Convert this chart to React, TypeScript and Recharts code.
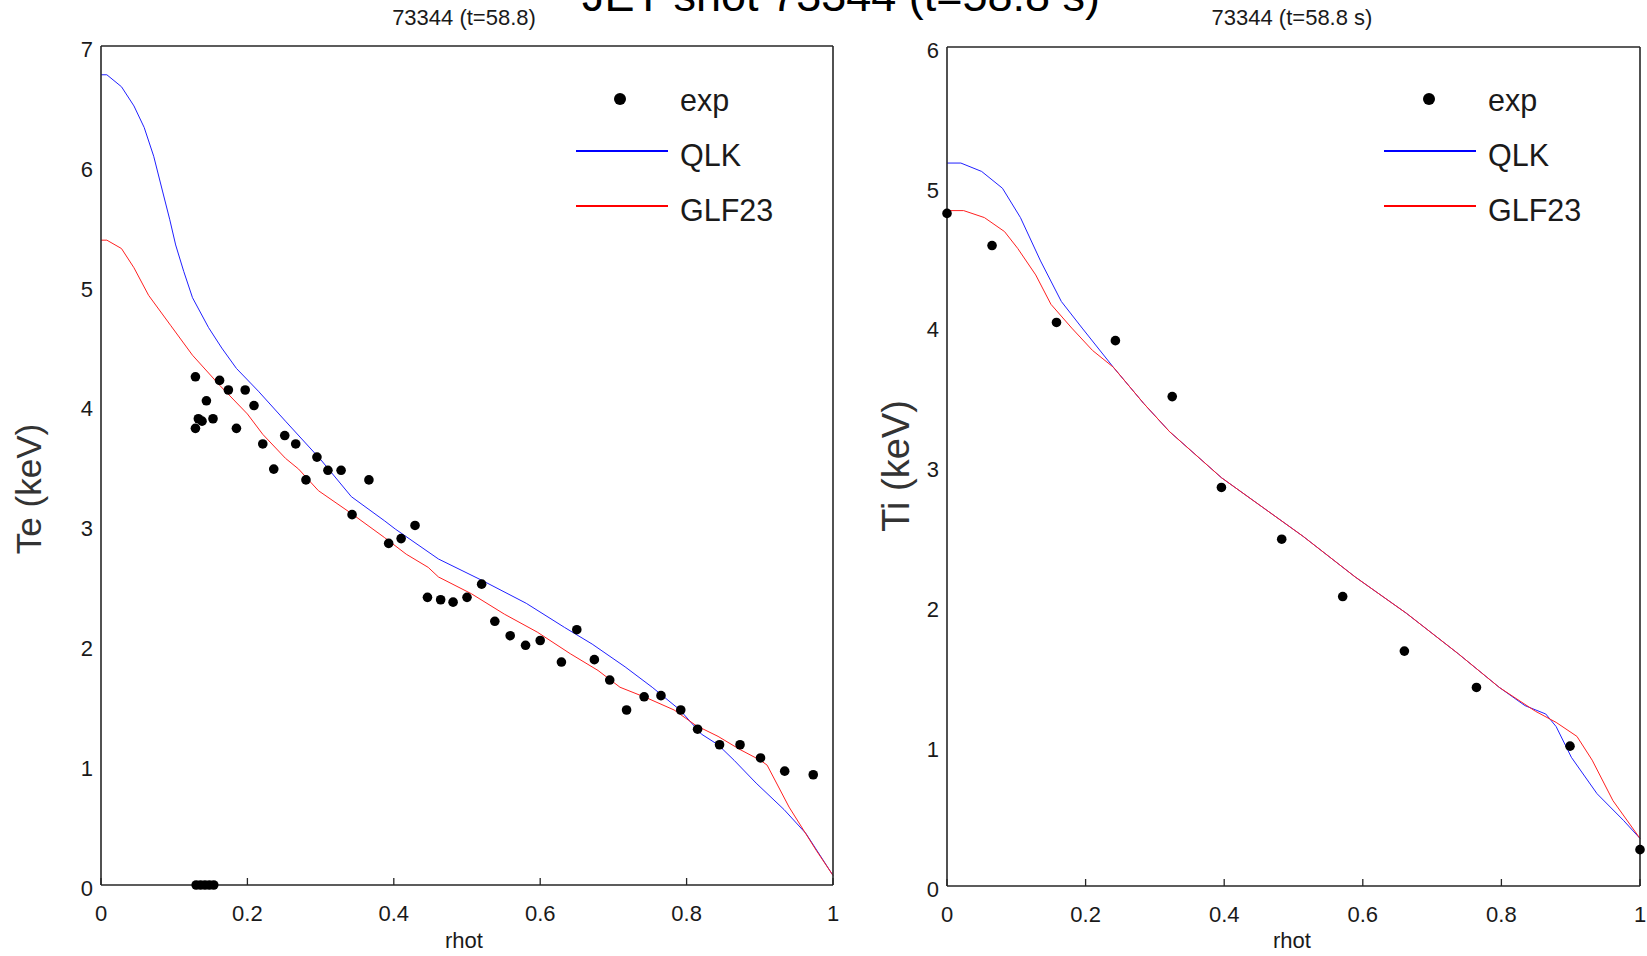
import React from 'react';
import { ComposedChart, Line, Scatter, XAxis, YAxis } from 'recharts';

const FONT = '"Liberation Sans", Arial, Helvetica, sans-serif';
const AXIS = '#262626';

// ---------- data ----------
const rhoTicks = [0, 0.2, 0.4, 0.6, 0.8, 1];
const teTicks = [0, 1, 2, 3, 4, 5, 6, 7];
const tiTicks = [0, 1, 2, 3, 4, 5, 6];

const teExp = [
  { x: 0.129, y: 4.24 }, { x: 0.129, y: 3.81 }, { x: 0.133, y: 3.89 }, { x: 0.138, y: 3.87 },
  { x: 0.144, y: 4.04 }, { x: 0.153, y: 3.89 }, { x: 0.162, y: 4.21 }, { x: 0.174, y: 4.13 },
  { x: 0.185, y: 3.81 }, { x: 0.197, y: 4.13 }, { x: 0.209, y: 4.0 }, { x: 0.221, y: 3.68 },
  { x: 0.236, y: 3.47 }, { x: 0.251, y: 3.75 }, { x: 0.266, y: 3.68 }, { x: 0.28, y: 3.38 },
  { x: 0.295, y: 3.57 }, { x: 0.31, y: 3.46 }, { x: 0.328, y: 3.46 }, { x: 0.343, y: 3.09 },
  { x: 0.366, y: 3.38 }, { x: 0.393, y: 2.85 }, { x: 0.41, y: 2.89 }, { x: 0.429, y: 3.0 },
  { x: 0.446, y: 2.4 }, { x: 0.464, y: 2.38 }, { x: 0.481, y: 2.36 }, { x: 0.5, y: 2.4 },
  { x: 0.52, y: 2.51 }, { x: 0.538, y: 2.2 }, { x: 0.559, y: 2.08 }, { x: 0.58, y: 2.0 },
  { x: 0.6, y: 2.04 }, { x: 0.629, y: 1.86 }, { x: 0.65, y: 2.13 }, { x: 0.674, y: 1.88 },
  { x: 0.695, y: 1.71 }, { x: 0.718, y: 1.46 }, { x: 0.742, y: 1.57 }, { x: 0.765, y: 1.58 },
  { x: 0.792, y: 1.46 }, { x: 0.815, y: 1.3 }, { x: 0.845, y: 1.17 }, { x: 0.873, y: 1.17 },
  { x: 0.901, y: 1.06 }, { x: 0.934, y: 0.95 }, { x: 0.973, y: 0.92 },
  { x: 0.13, y: 0 }, { x: 0.136, y: 0 }, { x: 0.142, y: 0 }, { x: 0.148, y: 0 }, { x: 0.154, y: 0 },
];

const teQlk = [
  { x: 0, y: 6.76 }, { x: 0.008, y: 6.76 }, { x: 0.028, y: 6.66 }, { x: 0.045, y: 6.5 },
  { x: 0.059, y: 6.32 }, { x: 0.072, y: 6.08 }, { x: 0.084, y: 5.79 }, { x: 0.094, y: 5.55 },
  { x: 0.102, y: 5.34 }, { x: 0.113, y: 5.12 }, { x: 0.125, y: 4.9 }, { x: 0.147, y: 4.65 },
  { x: 0.165, y: 4.48 }, { x: 0.185, y: 4.31 }, { x: 0.215, y: 4.12 }, { x: 0.252, y: 3.87 },
  { x: 0.3, y: 3.55 }, { x: 0.342, y: 3.24 }, { x: 0.387, y: 3.04 }, { x: 0.402, y: 2.97 },
  { x: 0.461, y: 2.72 }, { x: 0.521, y: 2.54 }, { x: 0.581, y: 2.35 }, { x: 0.633, y: 2.15 },
  { x: 0.671, y: 2.01 }, { x: 0.716, y: 1.82 }, { x: 0.753, y: 1.65 }, { x: 0.791, y: 1.46 },
  { x: 0.82, y: 1.26 }, { x: 0.843, y: 1.17 }, { x: 0.865, y: 1.04 }, { x: 0.895, y: 0.85 },
  { x: 0.933, y: 0.63 }, { x: 0.963, y: 0.43 }, { x: 1.0, y: 0.08 },
];

const teGlf = [
  { x: 0, y: 5.38 }, { x: 0.008, y: 5.38 }, { x: 0.028, y: 5.31 }, { x: 0.045, y: 5.15 },
  { x: 0.065, y: 4.92 }, { x: 0.095, y: 4.67 }, { x: 0.125, y: 4.42 }, { x: 0.162, y: 4.17 },
  { x: 0.2, y: 3.93 }, { x: 0.221, y: 3.76 }, { x: 0.252, y: 3.56 }, { x: 0.27, y: 3.47 },
  { x: 0.297, y: 3.29 }, { x: 0.342, y: 3.1 }, { x: 0.387, y: 2.9 }, { x: 0.417, y: 2.76 },
  { x: 0.447, y: 2.65 }, { x: 0.461, y: 2.57 }, { x: 0.506, y: 2.43 }, { x: 0.551, y: 2.26 },
  { x: 0.596, y: 2.11 }, { x: 0.641, y: 1.93 }, { x: 0.679, y: 1.79 }, { x: 0.709, y: 1.65 },
  { x: 0.746, y: 1.56 }, { x: 0.783, y: 1.46 }, { x: 0.813, y: 1.33 }, { x: 0.843, y: 1.24 },
  { x: 0.873, y: 1.13 }, { x: 0.901, y: 1.04 }, { x: 0.91, y: 1.0 }, { x: 0.94, y: 0.65 },
  { x: 0.977, y: 0.29 }, { x: 1.0, y: 0.08 },
];

const tiExp = [
  { x: 0, y: 4.81 }, { x: 0.065, y: 4.58 }, { x: 0.158, y: 4.03 }, { x: 0.243, y: 3.9 },
  { x: 0.325, y: 3.5 }, { x: 0.396, y: 2.85 }, { x: 0.483, y: 2.48 }, { x: 0.571, y: 2.07 },
  { x: 0.66, y: 1.68 }, { x: 0.764, y: 1.42 }, { x: 0.899, y: 1.0 }, { x: 1.0, y: 0.26 },
];

const tiQlk = [
  { x: 0, y: 5.17 }, { x: 0.02, y: 5.17 }, { x: 0.05, y: 5.11 }, { x: 0.08, y: 4.99 },
  { x: 0.106, y: 4.78 }, { x: 0.135, y: 4.47 }, { x: 0.165, y: 4.18 }, { x: 0.195, y: 3.99 },
  { x: 0.24, y: 3.71 }, { x: 0.284, y: 3.45 }, { x: 0.321, y: 3.25 }, { x: 0.396, y: 2.92 },
  { x: 0.455, y: 2.71 }, { x: 0.514, y: 2.5 }, { x: 0.589, y: 2.21 }, { x: 0.663, y: 1.95 },
  { x: 0.738, y: 1.66 }, { x: 0.797, y: 1.42 }, { x: 0.834, y: 1.29 }, { x: 0.864, y: 1.23 },
  { x: 0.879, y: 1.14 }, { x: 0.901, y: 0.92 }, { x: 0.938, y: 0.66 }, { x: 0.976, y: 0.47 },
  { x: 1.0, y: 0.34 },
];

const tiGlf = [
  { x: 0, y: 4.83 }, { x: 0.024, y: 4.83 }, { x: 0.054, y: 4.78 }, { x: 0.083, y: 4.68 },
  { x: 0.102, y: 4.56 }, { x: 0.128, y: 4.37 }, { x: 0.15, y: 4.16 }, { x: 0.18, y: 3.99 },
  { x: 0.21, y: 3.83 }, { x: 0.24, y: 3.71 }, { x: 0.284, y: 3.45 }, { x: 0.321, y: 3.25 },
  { x: 0.396, y: 2.92 }, { x: 0.455, y: 2.71 }, { x: 0.514, y: 2.5 }, { x: 0.589, y: 2.21 },
  { x: 0.663, y: 1.95 }, { x: 0.738, y: 1.66 }, { x: 0.797, y: 1.42 }, { x: 0.849, y: 1.25 },
  { x: 0.879, y: 1.17 }, { x: 0.909, y: 1.07 }, { x: 0.931, y: 0.9 }, { x: 0.961, y: 0.61 },
  { x: 1.0, y: 0.34 },
];

// ---------- components ----------
const Dot = (props: any) => {
  const { cx, cy } = props;
  if (cx == null || cy == null) return null;
  return <circle cx={cx} cy={cy} r={4.8} fill="#000" />;
};

type PanelProps = {
  left: number;
  width: number;
  plotLeft: number;
  plotRight: number;
  plotTop: number;
  plotBottom: number;
  yTicks: number[];
  exp: { x: number; y: number }[];
  qlk: { x: number; y: number }[];
  glf: { x: number; y: number }[];
};

const H = 956;
const YW = 40;
const XH = 40;

function Panel(p: PanelProps) {
  const margin = {
    left: p.plotLeft - p.left - YW,
    right: p.left + p.width - p.plotRight - 1,
    top: p.plotTop - 1,
    bottom: H - p.plotBottom - XH,
  };
  const yMax = p.yTicks[p.yTicks.length - 1];
  const tickStyle = { fontFamily: FONT, fontSize: 22, fill: '#1a1a1a' };
  return (
    <div style={{ position: 'absolute', left: p.left, top: 0 }}>
      <ComposedChart width={p.width} height={H} margin={margin}>
        <XAxis
          xAxisId="b"
          type="number"
          dataKey="x"
          domain={[0, 1]}
          ticks={rhoTicks}
          tickFormatter={(v: number) => String(v)}
          height={XH}
          stroke={AXIS}
          axisLine={{ stroke: AXIS, strokeWidth: 1.6 }}
          tickLine={{ stroke: AXIS, strokeWidth: 1.3 }}
          tickSize={-7}
          tickMargin={27}
          tick={tickStyle}
          interval={0}
        />
        <XAxis
          xAxisId="t"
          orientation="top"
          type="number"
          dataKey="x"
          domain={[0, 1]}
          ticks={rhoTicks}
          height={1}
          stroke={AXIS}
          axisLine={{ stroke: AXIS, strokeWidth: 1.6 }}
          tickLine={{ stroke: AXIS, strokeWidth: 1.3 }}
          tickSize={-7}
          tick={false}
          interval={0}
        />
        <YAxis
          yAxisId="l"
          type="number"
          dataKey="y"
          domain={[0, yMax]}
          ticks={p.yTicks}
          width={YW}
          stroke={AXIS}
          axisLine={{ stroke: AXIS, strokeWidth: 1.6 }}
          tickLine={false}
          tickSize={0}
          tickMargin={8}
          tick={{ ...tickStyle, dy: 3 }}
          interval={0}
        />
        <YAxis
          yAxisId="r"
          orientation="right"
          type="number"
          dataKey="y"
          domain={[0, yMax]}
          ticks={p.yTicks}
          width={1}
          stroke={AXIS}
          axisLine={{ stroke: AXIS, strokeWidth: 1.6 }}
          tickLine={{ stroke: AXIS, strokeWidth: 1.3 }}
          tickSize={-7}
          tick={false}
          interval={0}
        />
        <Line
          xAxisId="b"
          yAxisId="l"
          data={p.qlk}
          dataKey="y"
          type="linear"
          stroke="#2020ff"
          strokeWidth={1}
          dot={false}
          activeDot={false}
          isAnimationActive={false}
        />
        <Line
          xAxisId="b"
          yAxisId="l"
          data={p.glf}
          dataKey="y"
          type="linear"
          stroke="#ff2020"
          strokeWidth={1}
          dot={false}
          activeDot={false}
          isAnimationActive={false}
        />
        <Scatter
          xAxisId="b"
          yAxisId="l"
          data={p.exp}
          dataKey="y"
          fill="#000"
          shape={Dot}
          isAnimationActive={false}
        />
      </ComposedChart>
    </div>
  );
}

function LegendBox({ dotX, lineX1, lineX2, textX }: { dotX: number; lineX1: number; lineX2: number; textX: number }) {
  const fs = 30.5;
  return (
    <g>
      <circle cx={dotX} cy={99} r={6} fill="#000" />
      <text x={textX} y={111} fontFamily={FONT} fontSize={fs} fill="#1a1a1a">exp</text>
      <line x1={lineX1} x2={lineX2} y1={151} y2={151} stroke="#0000ff" strokeWidth={2} />
      <text x={textX} y={166} fontFamily={FONT} fontSize={fs} fill="#1a1a1a">QLK</text>
      <line x1={lineX1} x2={lineX2} y1={206} y2={206} stroke="#ff0000" strokeWidth={2} />
      <text x={textX} y={221} fontFamily={FONT} fontSize={fs} fill="#1a1a1a">GLF23</text>
    </g>
  );
}

export default function App() {
  return (
    <div
      style={{
        position: 'absolute',
        left: 0,
        top: 0,
        width: 1647,
        height: 956,
        overflow: 'hidden',
        background: '#fff',
      }}
    >
      <Panel
        left={0}
        width={860}
        plotLeft={101}
        plotRight={833}
        plotTop={46}
        plotBottom={885}
        yTicks={teTicks}
        exp={teExp}
        qlk={teQlk}
        glf={teGlf}
      />
      <Panel
        left={860}
        width={787}
        plotLeft={947}
        plotRight={1640}
        plotTop={47}
        plotBottom={886}
        yTicks={tiTicks}
        exp={tiExp}
        qlk={tiQlk}
        glf={tiGlf}
      />
      <svg
        width={1647}
        height={956}
        style={{ position: 'absolute', left: 0, top: 0, pointerEvents: 'none' }}
      >
        <text x={841} y={11} textAnchor="middle" fontFamily={FONT} fontSize={45} fill="#000">
          JET shot 73344 (t=58.8 s)
        </text>
        <text x={464} y={25} textAnchor="middle" fontFamily={FONT} fontSize={22} fill="#1a1a1a">
          73344 (t=58.8)
        </text>
        <text x={1292} y={25} textAnchor="middle" fontFamily={FONT} fontSize={22} fill="#1a1a1a">
          73344 (t=58.8 s)
        </text>
        <text x={464} y={948} textAnchor="middle" fontFamily={FONT} fontSize={22} fill="#1a1a1a">
          rhot
        </text>
        <text x={1292} y={948} textAnchor="middle" fontFamily={FONT} fontSize={22} fill="#1a1a1a">
          rhot
        </text>
        <text
          x={0}
          y={0}
          transform="translate(41 489) rotate(-90)"
          textAnchor="middle"
          fontFamily={FONT}
          fontSize={35}
          fill="#333"
        >
          Te (keV)
        </text>
        <text
          x={0}
          y={0}
          transform="translate(909 466) rotate(-90)"
          textAnchor="middle"
          fontFamily={FONT}
          fontSize={38}
          fill="#333"
        >
          Ti (keV)
        </text>
        <LegendBox dotX={620} lineX1={576} lineX2={668} textX={680} />
        <LegendBox dotX={1429} lineX1={1384} lineX2={1476} textX={1488} />
      </svg>
    </div>
  );
}
